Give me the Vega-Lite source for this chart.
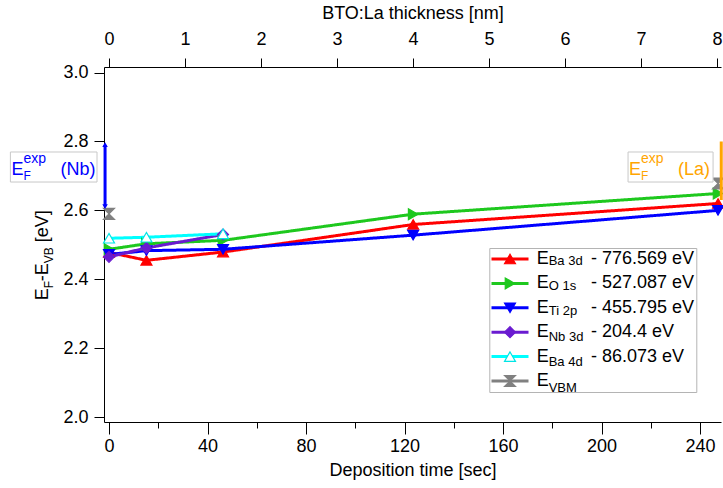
{
  "$schema": "https://vega.github.io/schema/vega-lite/v6.json",
  "width": 617,
  "height": 355,
  "autosize": {"type": "none"},
  "padding": {"left": 104, "top": 67, "right": 2, "bottom": 66},
  "background": "white",
  "config": {
    "view": {"stroke": null},
    "font": "Liberation Sans",
    "axis": {
      "domainColor": "black", "domainWidth": 1, "tickColor": "black", "tickWidth": 1,
      "labelColor": "black", "titleColor": "black", "labelFont": "Liberation Sans", "titleFont": "Liberation Sans",
      "labelFontSize": 18, "titleFontSize": 18, "titleFontWeight": "normal", "grid": false,
      "labelFlush": false, "labelOverlap": false
    }
  },
  "datasets": {
    "pts": [
      {"s": "Ba3d", "sub": "Ba 3d", "t": 0, "v": 2.478},
      {"s": "Ba3d", "sub": "Ba 3d", "t": 15.2, "v": 2.455},
      {"s": "Ba3d", "sub": "Ba 3d", "t": 46.3, "v": 2.479},
      {"s": "Ba3d", "sub": "Ba 3d", "t": 123.5, "v": 2.559},
      {"s": "Ba3d", "sub": "Ba 3d", "t": 247.3, "v": 2.62},
      {"s": "O1s", "sub": "O 1s", "t": 0, "v": 2.487},
      {"s": "O1s", "sub": "O 1s", "t": 15.2, "v": 2.503},
      {"s": "O1s", "sub": "O 1s", "t": 46.3, "v": 2.513},
      {"s": "O1s", "sub": "O 1s", "t": 123.5, "v": 2.589},
      {"s": "O1s", "sub": "O 1s", "t": 247.3, "v": 2.649},
      {"s": "Ti2p", "sub": "Ti 2p", "t": 0, "v": 2.472},
      {"s": "Ti2p", "sub": "Ti 2p", "t": 15.2, "v": 2.483},
      {"s": "Ti2p", "sub": "Ti 2p", "t": 46.3, "v": 2.487},
      {"s": "Ti2p", "sub": "Ti 2p", "t": 123.5, "v": 2.528},
      {"s": "Ti2p", "sub": "Ti 2p", "t": 247.3, "v": 2.6},
      {"s": "Nb3d", "sub": "Nb 3d", "t": 0, "v": 2.465},
      {"s": "Nb3d", "sub": "Nb 3d", "t": 15.2, "v": 2.491},
      {"s": "Nb3d", "sub": "Nb 3d", "t": 46.3, "v": 2.53},
      {"s": "Ba4d", "sub": "Ba 4d", "t": 0, "v": 2.519},
      {"s": "Ba4d", "sub": "Ba 4d", "t": 15.2, "v": 2.522},
      {"s": "Ba4d", "sub": "Ba 4d", "t": 46.3, "v": 2.532},
      {"s": "VBM", "sub": "VBM", "t": 0, "v": 2.59},
      {"s": "VBM", "sub": "VBM", "t": 247.3, "v": 2.678}
    ]
  },
  "layer": [
    {
      "data": {"name": "pts"},
      "transform": [{"filter": "datum.s !== 'VBM'"}],
      "mark": {"type": "line", "strokeWidth": 3},
      "encoding": {
        "x": {"field": "t", "type": "quantitative", "scale": {"domain": [-2.03, 248.5]},
          "axis": {"orient": "bottom", "values": [0, 40, 80, 120, 160, 200, 240], "tickSize": 12,
            "labelPadding": 3, "title": "Deposition time [sec]", "titlePadding": 6}},
        "y": {"field": "v", "type": "quantitative", "scale": {"domain": [1.9855, 3.0163]},
          "axis": {"orient": "left", "values": [2.0, 2.2, 2.4, 2.6, 2.8, 3.0], "format": ".1f", "tickSize": 10, "labelPadding": 6, "title": null}},
        "color": {"field": "s", "type": "nominal",
          "scale": {"domain": ["Ba3d", "O1s", "Ti2p", "Nb3d", "Ba4d", "VBM", "none"], "range": ["#ff0000", "#1ec81e", "#0000ff", "#6a1bd0", "#00ffff", "#808080", "#000000"]},
          "legend": {"orient": "none", "legendX": 385.3, "legendY": 181, "title": null, "padding": 2,
            "values": ["Ba3d", "O1s", "Ti2p", "Nb3d", "Ba4d", "VBM"],
            "symbolType": "M-3.7,0H3.7", "symbolSize": 100, "symbolStrokeWidth": 3,
            "symbolOffset": 9.7, "labelOffset": 72, "labelLimit": 300, "labelFontSize": 18, "labelFont": "Liberation Sans", "labelColor": "black", "rowPadding": 6.4,
            "strokeColor": "#b4b4b4", "fillColor": "white", "zindex": 1,
            "labelExpr": "datum.value === 'Ba3d' ? '- 776.569 eV\u00a0' : datum.value === 'O1s' ? '- 527.087 eV' : datum.value === 'Ti2p' ? '- 455.795 eV' : datum.value === 'Nb3d' ? '- 204.4 eV' : datum.value === 'Ba4d' ? '- 86.073 eV' : ''"}},
        "strokeDash": {"field": "sub", "type": "nominal",
          "scale": {"domain": ["Ba 3d", "O 1s", "Ti 2p", "Nb 3d", "Ba 4d", "VBM"], "range": [[1, 0], [1, 0], [1, 0], [1, 0], [1, 0], [1, 0]]},
          "legend": {"orient": "none", "legendX": 429.7, "legendY": 185, "title": null, "padding": 2, "symbolSize": 100,
            "symbolOpacity": 0, "labelOffset": 0, "labelFontSize": 13, "labelFont": "Liberation Sans", "labelColor": "black", "rowPadding": 11.4, "zindex": 3}},
        "order": {"field": "t", "type": "quantitative"}
      }
    },
    {
      "data": {"name": "pts"},
      "mark": {"type": "point", "filled": true, "size": 120, "strokeWidth": 1.2, "opacity": 1},
      "encoding": {
        "x": {"field": "t", "type": "quantitative", "scale": {"domain": [-2.03, 248.5]}, "axis": null},
        "y": {"field": "v", "type": "quantitative", "scale": {"domain": [1.9855, 3.0163]}, "axis": null},
        "shape": {"field": "s", "type": "nominal",
          "scale": {"domain": ["Ba3d", "O1s", "Ti2p", "Nb3d", "Ba4d", "VBM"], "range": ["triangle-up", "triangle-right", "triangle-down", "diamond", "triangle-up", "M-1,-1H1L-1,1H1Z"]},
          "legend": {"orient": "none", "legendX": 385.3, "legendY": 181, "title": null, "padding": 2, "symbolSize": 120, "symbolStrokeWidth": 1.2,
            "symbolOffset": 9.7, "labelOffset": 17.7, "labelFontSize": 18, "labelFont": "Liberation Sans", "labelColor": "black", "labelExpr": "'E'", "rowPadding": 6.4, "zindex": 2}},
        "fill": {"field": "s", "type": "nominal",
          "scale": {"domain": ["Ba3d", "O1s", "Ti2p", "Nb3d", "Ba4d", "VBM"], "range": ["#ff0000", "#1ec81e", "#0000ff", "#6a1bd0", "#ffffff", "#808080"]},
          "legend": {"orient": "none", "legendX": 385.3, "legendY": 181, "title": null, "padding": 2, "symbolSize": 120, "symbolStrokeWidth": 1.2,
            "symbolOffset": 9.7, "labelOffset": 17.7, "labelFontSize": 18, "labelFont": "Liberation Sans", "labelColor": "black", "labelExpr": "'E'", "rowPadding": 6.4, "zindex": 2}},
        "stroke": {"field": "s", "type": "nominal",
          "scale": {"domain": ["Ba3d", "O1s", "Ti2p", "Nb3d", "Ba4d", "VBM"], "range": ["#ff0000", "#1ec81e", "#0000ff", "#6a1bd0", "#00e5e5", "#808080"]},
          "legend": {"orient": "none", "legendX": 385.3, "legendY": 181, "title": null, "padding": 2, "symbolSize": 120, "symbolStrokeWidth": 1.2,
            "symbolOffset": 9.7, "labelOffset": 17.7, "labelFontSize": 18, "labelFont": "Liberation Sans", "labelColor": "black", "labelExpr": "'E'", "rowPadding": 6.4, "zindex": 2}}
      }
    },
    {
      "data": {"values": [{}]},
      "mark": {"type": "rule", "color": "#0000ff", "strokeWidth": 3},
      "encoding": {
        "x": {"datum": -1.6, "type": "quantitative", "scale": {"domain": [-2.03, 248.5]}, "axis": null},
        "y": {"datum": 2.612, "type": "quantitative", "scale": {"domain": [1.9855, 3.0163]}, "axis": null},
        "y2": {"datum": 2.79}
      }
    },
    {
      "data": {"values": [{}]},
      "mark": {"type": "point", "shape": "triangle-up", "filled": true, "size": 30, "color": "#0000ff", "opacity": 1},
      "encoding": {
        "x": {"datum": -1.6, "type": "quantitative", "scale": {"domain": [-2.03, 248.5]}, "axis": null},
        "y": {"datum": 2.791, "type": "quantitative", "scale": {"domain": [1.9855, 3.0163]}, "axis": null}
      }
    },
    {
      "data": {"values": [{}]},
      "mark": {"type": "point", "shape": "triangle-down", "filled": true, "size": 30, "color": "#0000ff", "opacity": 1},
      "encoding": {
        "x": {"datum": -1.6, "type": "quantitative", "scale": {"domain": [-2.03, 248.5]}, "axis": null},
        "y": {"datum": 2.611, "type": "quantitative", "scale": {"domain": [1.9855, 3.0163]}, "axis": null}
      }
    },
    {
      "data": {"values": [{}]},
      "mark": {"type": "rule", "color": "#ffa500", "strokeWidth": 3},
      "encoding": {
        "x": {"datum": 248.6, "type": "quantitative", "scale": {"domain": [-2.03, 248.5]}, "axis": null},
        "y": {"datum": 2.63, "type": "quantitative", "scale": {"domain": [1.9855, 3.0163]}, "axis": null},
        "y2": {"datum": 2.8}
      }
    },
    {
      "data": {"values": [{}]},
      "mark": {"type": "rect", "fill": "white", "stroke": "#c8c8c8", "strokeWidth": 1},
      "encoding": {
        "x": {"datum": -40.04, "type": "quantitative", "scale": {"domain": [-2.03, 248.5]}, "axis": null},
        "x2": {"datum": -4.87},
        "y": {"datum": 2.7695, "type": "quantitative", "scale": {"domain": [1.9855, 3.0163]}, "axis": null},
        "y2": {"datum": 2.6823}
      }
    },
    {
      "data": {"values": [{}]},
      "mark": {"type": "rect", "fill": "white", "stroke": "#c8c8c8", "strokeWidth": 1},
      "encoding": {
        "x": {"datum": 210.76, "type": "quantitative", "scale": {"domain": [-2.03, 248.5]}, "axis": null},
        "x2": {"datum": 245.28},
        "y": {"datum": 2.7695, "type": "quantitative", "scale": {"domain": [1.9855, 3.0163]}, "axis": null},
        "y2": {"datum": 2.6823}
      }
    },
    {
      "data": {"values": [{}]},
      "mark": {"type": "text", "text": "E", "fontSize": 18, "align": "left", "baseline": "alphabetic", "color": "#0000ff"},
      "encoding": {
        "x": {"datum": -39.63, "type": "quantitative", "scale": {"domain": [-2.03, 248.5]}, "axis": null},
        "y": {"datum": 2.7038, "type": "quantitative", "scale": {"domain": [1.9855, 3.0163]}, "axis": null}
      }
    },
    {
      "data": {"values": [{}]},
      "mark": {"type": "text", "text": "F", "fontSize": 12, "align": "left", "baseline": "alphabetic", "color": "#0000ff", "dx": 12, "dy": 5},
      "encoding": {
        "x": {"datum": -39.63, "type": "quantitative", "scale": {"domain": [-2.03, 248.5]}, "axis": null},
        "y": {"datum": 2.7038, "type": "quantitative", "scale": {"domain": [1.9855, 3.0163]}, "axis": null}
      }
    },
    {
      "data": {"values": [{}]},
      "mark": {"type": "text", "text": "exp", "fontSize": 14, "align": "left", "baseline": "alphabetic", "color": "#0000ff", "dx": 12, "dy": -12},
      "encoding": {
        "x": {"datum": -39.63, "type": "quantitative", "scale": {"domain": [-2.03, 248.5]}, "axis": null},
        "y": {"datum": 2.7038, "type": "quantitative", "scale": {"domain": [1.9855, 3.0163]}, "axis": null}
      }
    },
    {
      "data": {"values": [{}]},
      "mark": {"type": "text", "text": "(Nb)", "fontSize": 18, "align": "left", "baseline": "alphabetic", "color": "#0000ff", "dx": 49},
      "encoding": {
        "x": {"datum": -39.63, "type": "quantitative", "scale": {"domain": [-2.03, 248.5]}, "axis": null},
        "y": {"datum": 2.7038, "type": "quantitative", "scale": {"domain": [1.9855, 3.0163]}, "axis": null}
      }
    },
    {
      "data": {"values": [{}]},
      "mark": {"type": "text", "text": "E", "fontSize": 18, "align": "left", "baseline": "alphabetic", "color": "#ffa500"},
      "encoding": {
        "x": {"datum": 211.17, "type": "quantitative", "scale": {"domain": [-2.03, 248.5]}, "axis": null},
        "y": {"datum": 2.7038, "type": "quantitative", "scale": {"domain": [1.9855, 3.0163]}, "axis": null}
      }
    },
    {
      "data": {"values": [{}]},
      "mark": {"type": "text", "text": "F", "fontSize": 12, "align": "left", "baseline": "alphabetic", "color": "#ffa500", "dx": 12, "dy": 5},
      "encoding": {
        "x": {"datum": 211.17, "type": "quantitative", "scale": {"domain": [-2.03, 248.5]}, "axis": null},
        "y": {"datum": 2.7038, "type": "quantitative", "scale": {"domain": [1.9855, 3.0163]}, "axis": null}
      }
    },
    {
      "data": {"values": [{}]},
      "mark": {"type": "text", "text": "exp", "fontSize": 14, "align": "left", "baseline": "alphabetic", "color": "#ffa500", "dx": 12, "dy": -12},
      "encoding": {
        "x": {"datum": 211.17, "type": "quantitative", "scale": {"domain": [-2.03, 248.5]}, "axis": null},
        "y": {"datum": 2.7038, "type": "quantitative", "scale": {"domain": [1.9855, 3.0163]}, "axis": null}
      }
    },
    {
      "data": {"values": [{}]},
      "mark": {"type": "text", "text": "(La)", "fontSize": 18, "align": "left", "baseline": "alphabetic", "color": "#ffa500", "dx": 49},
      "encoding": {
        "x": {"datum": 211.17, "type": "quantitative", "scale": {"domain": [-2.03, 248.5]}, "axis": null},
        "y": {"datum": 2.7038, "type": "quantitative", "scale": {"domain": [1.9855, 3.0163]}, "axis": null}
      }
    },
    {
      "data": {"values": [{}]},
      "mark": {"type": "text", "text": "E", "fontSize": 18, "align": "left", "baseline": "alphabetic", "color": "black", "angle": 270},
      "encoding": {
        "x": {"datum": -24.89, "type": "quantitative", "scale": {"domain": [-2.03, 248.5]}, "axis": null},
        "y": {"datum": 2.3388, "type": "quantitative", "scale": {"domain": [1.9855, 3.0163]}, "axis": null}
      }
    },
    {
      "data": {"values": [{}]},
      "mark": {"type": "text", "text": "F", "fontSize": 12, "align": "left", "baseline": "alphabetic", "color": "black", "angle": 270, "dx": 12, "dy": 5},
      "encoding": {
        "x": {"datum": -24.89, "type": "quantitative", "scale": {"domain": [-2.03, 248.5]}, "axis": null},
        "y": {"datum": 2.3388, "type": "quantitative", "scale": {"domain": [1.9855, 3.0163]}, "axis": null}
      }
    },
    {
      "data": {"values": [{}]},
      "mark": {"type": "text", "text": "-E", "fontSize": 18, "align": "left", "baseline": "alphabetic", "color": "black", "angle": 270, "dx": 19},
      "encoding": {
        "x": {"datum": -24.89, "type": "quantitative", "scale": {"domain": [-2.03, 248.5]}, "axis": null},
        "y": {"datum": 2.3388, "type": "quantitative", "scale": {"domain": [1.9855, 3.0163]}, "axis": null}
      }
    },
    {
      "data": {"values": [{}]},
      "mark": {"type": "text", "text": "VB", "fontSize": 12, "align": "left", "baseline": "alphabetic", "color": "black", "angle": 270, "dx": 37, "dy": 5},
      "encoding": {
        "x": {"datum": -24.89, "type": "quantitative", "scale": {"domain": [-2.03, 248.5]}, "axis": null},
        "y": {"datum": 2.3388, "type": "quantitative", "scale": {"domain": [1.9855, 3.0163]}, "axis": null}
      }
    },
    {
      "data": {"values": [{}]},
      "mark": {"type": "text", "text": "[eV]", "fontSize": 18, "align": "left", "baseline": "alphabetic", "color": "black", "angle": 270, "dx": 58},
      "encoding": {
        "x": {"datum": -24.89, "type": "quantitative", "scale": {"domain": [-2.03, 248.5]}, "axis": null},
        "y": {"datum": 2.3388, "type": "quantitative", "scale": {"domain": [1.9855, 3.0163]}, "axis": null}
      }
    },
    {
      "data": {"values": [{}]},
      "mark": {"type": "point", "opacity": 0},
      "encoding": {
        "x": {"datum": 0, "type": "quantitative", "scale": {"domain": [-2.03, 248.5]},
          "axis": {"orient": "top", "values": [0, 30.86, 61.72, 92.58, 123.44, 154.3, 185.16, 216.02, 246.88],
            "labelExpr": "round(datum.value / 30.86)", "tickSize": 9, "labelPadding": 10,
            "title": "BTO:La thickness [nm]", "titlePadding": 8}},
        "y": {"datum": 2.5, "type": "quantitative", "scale": {"domain": [1.9855, 3.0163]}, "axis": null}
      }
    },
    {
      "data": {"values": [{}]},
      "mark": {"type": "point", "opacity": 0},
      "encoding": {
        "x": {"datum": 0, "type": "quantitative", "scale": {"domain": [-2.03, 248.5]},
          "axis": {"orient": "bottom", "values": [20, 60, 100, 140, 180, 220], "tickSize": 6, "labels": false, "domain": false, "title": null}},
        "y": {"datum": 2.5, "type": "quantitative", "scale": {"domain": [1.9855, 3.0163]}, "axis": null}
      }
    }
  ],
  "resolve": {"axis": {"x": "independent", "y": "independent"}}
}
